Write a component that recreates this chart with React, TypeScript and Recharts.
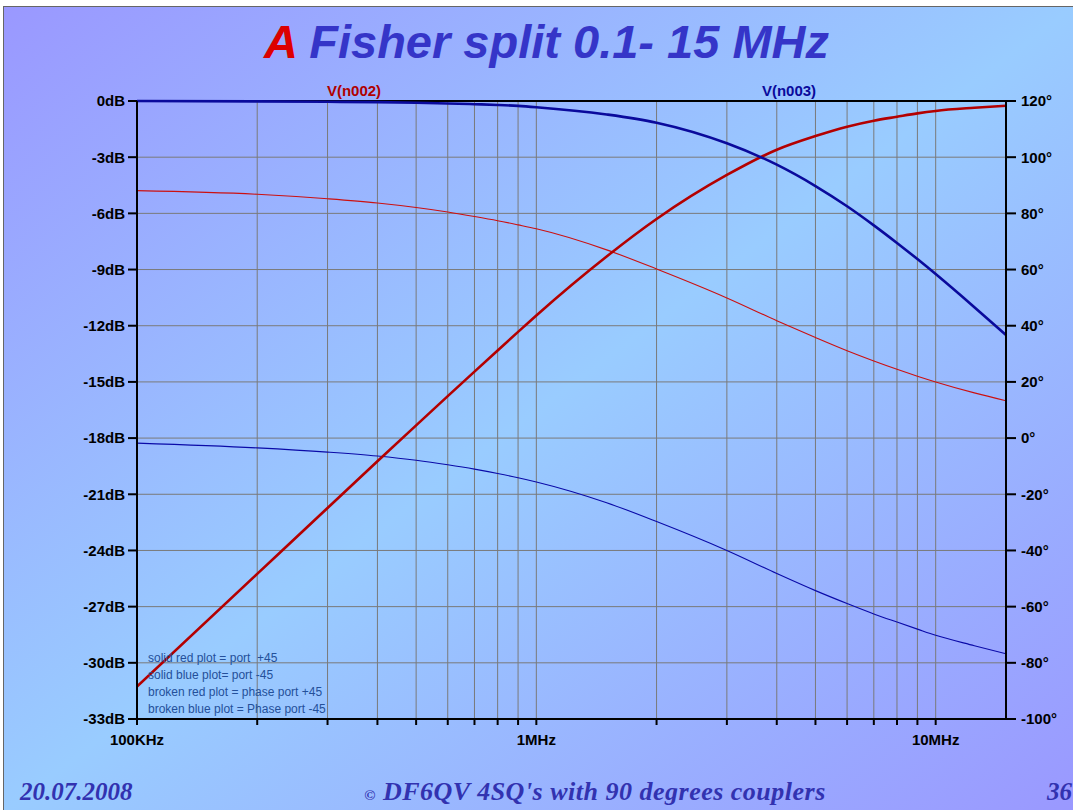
import { LineChart, Line, XAxis, YAxis, CartesianGrid, ReferenceLine } from 'recharts';

// Frequency points (Hz) and readings for each trace
const freqs = [
  1e5, 2e5, 3e5, 4e5, 5e5, 6e5, 7e5, 8e5, 9e5, 1e6, 1.5e6, 2e6, 3e6, 4e6, 5e6, 6e6, 7e6, 8e6, 9e6,
  1e7, 1.25e7, 1.5e7,
];
// port +45 magnitude (dB)
const magPlus45 = [
  -31.27, -25.25, -21.73, -19.24, -17.32, -15.76, -14.45, -13.32, -12.33, -11.45, -8.3, -6.3, -3.95,
  -2.6, -1.87, -1.37, -1.05, -0.84, -0.66, -0.53, -0.36, -0.25,
];
// port -45 magnitude (dB)
const magMinus45 = [
  0, -0.02, -0.04, -0.06, -0.09, -0.13, -0.17, -0.21, -0.26, -0.33, -0.72, -1.16, -2.26, -3.4, -4.54,
  -5.62, -6.64, -7.58, -8.44, -9.24, -11.01, -12.5,
];
// phase port +45 (deg)
const phasePlus45 = [
  88.1, 86.8, 85.2, 83.7, 82.1, 80.5, 78.9, 77.4, 75.9, 74.5, 67.0, 60.2, 49.9, 41.8, 35.8, 31.1, 27.45,
  24.5, 22.05, 20.0, 16.1, 13.3,
];
// phase port -45 (deg)
const phaseMinus45 = [
  -1.8, -3.5, -5.0, -6.4, -7.9, -9.5, -11.05, -12.6, -14.1, -15.6, -23.0, -29.7, -40.0, -48.2, -54.3,
  -58.9, -62.6, -65.5, -68.0, -70.2, -73.9, -76.8,
];

const freqTicks = [
  1e5, 2e5, 3e5, 4e5, 5e5, 6e5, 7e5, 8e5, 9e5, 1e6, 2e6, 3e6, 4e6, 5e6, 6e6, 7e6, 8e6, 9e6, 1e7,
];
const freqLabels: Record<number, string> = { 100000: '100KHz', 1000000: '1MHz', 10000000: '10MHz' };
const dbTicks = [0, -3, -6, -9, -12, -15, -18, -21, -24, -27, -30, -33];
const degTicks = [120, 100, 80, 60, 40, 20, 0, -20, -40, -60, -80, -100];

const notes = [
  'solid red plot = port  +45',
  'solid blue plot= port -45',
  'broken red plot = phase port +45',
  'broken blue plot = Phase port -45',
];

const data = freqs.map((f, i) => ({
  f,
  magA: magPlus45[i],
  magB: magMinus45[i],
  phA: phasePlus45[i],
  phB: phaseMinus45[i],
}));

const sans = '"Liberation Sans", Arial, sans-serif';
const serif = '"Liberation Serif", "Times New Roman", serif';

const tickFont = {
  fill: '#000',
  fontSize: 15,
  fontWeight: 'bold',
  fontFamily: sans,
};

export default function App() {
  return (
    <div style={{ position: 'absolute', left: 0, top: 0, width: 1073, height: 810, background: '#fff', overflow: 'hidden' }}>
      <div
        style={{
          position: 'absolute',
          left: 3,
          top: 6,
          width: 1070,
          height: 804,
          borderTop: '1px solid #666',
          borderLeft: '1px solid #666',
          background: 'linear-gradient(to bottom right, #9a98ff 0%, #99ccff 50%, #9a98ff 100%)',
        }}
      />
      <div
        style={{
          position: 'absolute',
          left: 0,
          width: 1093,
          top: 14,
          textAlign: 'center',
          fontFamily: sans,
          fontWeight: 'bold',
          fontStyle: 'italic',
          fontSize: 47,
          color: '#3535c8',
          whiteSpace: 'pre',
        }}
      >
        <span style={{ color: '#dd0000' }}>A</span> Fisher split 0.1- 15 MHz
      </div>

      <LineChart
        width={1073}
        height={810}
        data={data}
        margin={{ top: 101, right: 7, bottom: 51, left: 57 }}
        style={{ position: 'absolute', left: 0, top: 0 }}
      >
        <CartesianGrid yAxisId="db" stroke="#7a7a7a" strokeWidth={1} />
        <XAxis
          dataKey="f"
          type="number"
          scale="log"
          domain={[1e5, 1.5e7]}
          allowDataOverflow
          ticks={freqTicks}
          interval={0}
          tickFormatter={(v: number) => freqLabels[v] ?? ''}
          height={40}
          tickSize={6}
          tickMargin={9}
          tick={tickFont}
          axisLine={{ stroke: '#000', strokeWidth: 2 }}
          tickLine={{ stroke: '#000', strokeWidth: 2 }}
        />
        <YAxis
          yAxisId="db"
          orientation="left"
          domain={[-33, 0]}
          ticks={dbTicks}
          interval={0}
          width={80}
          tickSize={9}
          tickMargin={3}
          tickFormatter={(v: number) => `${v}dB`}
          tick={tickFont}
          axisLine={{ stroke: '#000', strokeWidth: 2 }}
          tickLine={{ stroke: '#000', strokeWidth: 2 }}
        />
        <YAxis
          yAxisId="deg"
          orientation="right"
          domain={[-100, 120]}
          ticks={degTicks}
          interval={0}
          width={60}
          tickSize={10}
          tickMargin={5}
          tickFormatter={(v: number) => `${v}°`}
          tick={tickFont}
          axisLine={{ stroke: '#000', strokeWidth: 2 }}
          tickLine={{ stroke: '#000', strokeWidth: 2 }}
        />
        <ReferenceLine yAxisId="db" y={0} stroke="#000" strokeWidth={2} />
        <Line yAxisId="deg" dataKey="phA" stroke="#cc1010" strokeWidth={1.1} dot={false} type="monotone" isAnimationActive={false} />
        <Line yAxisId="deg" dataKey="phB" stroke="#0a0aa8" strokeWidth={1.1} dot={false} type="monotone" isAnimationActive={false} />
        <Line yAxisId="db" dataKey="magA" stroke="#b40000" strokeWidth={2.6} dot={false} type="monotone" isAnimationActive={false} />
        <Line yAxisId="db" dataKey="magB" stroke="#0a0a9c" strokeWidth={2.6} dot={false} type="monotone" isAnimationActive={false} />
      </LineChart>

      <div style={{ position: 'absolute', left: 304, width: 100, top: 82, textAlign: 'center', color: '#b00000', fontFamily: sans, fontWeight: 'bold', fontSize: 15 }}>
        V(n002)
      </div>
      <div style={{ position: 'absolute', left: 739, width: 100, top: 82, textAlign: 'center', color: '#0a0a9c', fontFamily: sans, fontWeight: 'bold', fontSize: 15 }}>
        V(n003)
      </div>

      {notes.map((t, i) => (
        <div
          key={t}
          style={{
            position: 'absolute',
            left: 148,
            top: 651 + i * 17,
            fontFamily: sans,
            fontSize: 12,
            color: '#24509a',
            whiteSpace: 'pre',
            lineHeight: '15px',
          }}
        >
          {t}
        </div>
      ))}

      <div style={{ position: 'absolute', left: 20, top: 778, fontFamily: serif, fontWeight: 'bold', fontStyle: 'italic', fontSize: 25, color: '#3232b0' }}>
        20.07.2008
      </div>
      <div style={{ position: 'absolute', left: 295, width: 600, top: 777, textAlign: 'center', fontFamily: serif, fontWeight: 'bold', fontStyle: 'italic', fontSize: 26, letterSpacing: 0.5, color: '#3232b0', whiteSpace: 'pre' }}>
        <span style={{ fontSize: 15 }}>©</span> DF6QV 4SQ's with 90 degrees couplers
      </div>
      <div style={{ position: 'absolute', left: 1047, top: 778, fontFamily: serif, fontWeight: 'bold', fontStyle: 'italic', fontSize: 25, color: '#3232b0' }}>
        36
      </div>
    </div>
  );
}
